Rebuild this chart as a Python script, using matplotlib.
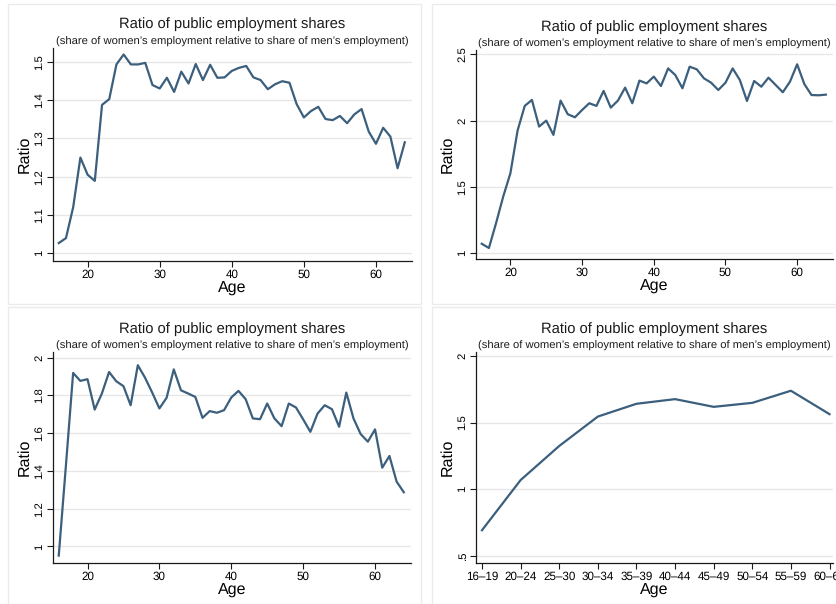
import matplotlib
matplotlib.use("Agg")
import matplotlib.pyplot as plt
from matplotlib.patches import Rectangle
import numpy as np

plt.rcParams['font.family'] = ['Liberation Sans', 'DejaVu Sans']
plt.rcParams['text.hinting'] = 'no_hinting'

# data
ages = list(range(16, 65))

ratio_a = [1.026, 1.039, 1.12, 1.25, 1.205, 1.189, 1.388, 1.403, 1.494, 1.52,
           1.494, 1.494, 1.498, 1.44, 1.431, 1.459, 1.422, 1.475, 1.444, 1.495,
           1.453, 1.493, 1.459, 1.46, 1.477, 1.485, 1.49, 1.46, 1.453, 1.429,
           1.442, 1.45, 1.446, 1.39, 1.355, 1.372, 1.383, 1.351, 1.348, 1.359,
           1.34, 1.363, 1.377, 1.318, 1.286, 1.328, 1.305, 1.222, 1.29]

ratio_b = [1.07, 1.038, 1.226, 1.427, 1.603, 1.925, 2.111, 2.156, 1.955, 2.0,
           1.892, 2.151, 2.048, 2.025, 2.08, 2.131, 2.111, 2.224, 2.098, 2.151,
           2.249, 2.131, 2.302, 2.281, 2.332, 2.261, 2.394, 2.344, 2.244, 2.407,
           2.387, 2.319, 2.286, 2.231, 2.286, 2.394, 2.307, 2.148, 2.299, 2.256,
           2.324, 2.269, 2.214, 2.294, 2.425, 2.276, 2.193, 2.191, 2.196]

ratio_c = [0.951, 1.43, 1.919, 1.877, 1.886, 1.725, 1.81, 1.924, 1.875, 1.849,
           1.748, 1.96, 1.894, 1.815, 1.731, 1.787, 1.938, 1.827, 1.81, 1.792,
           1.681, 1.717, 1.708, 1.722, 1.789, 1.824, 1.78, 1.678, 1.674, 1.757,
           1.678, 1.637, 1.757, 1.736, 1.673, 1.607, 1.704, 1.748, 1.727, 1.634,
           1.815, 1.678, 1.595, 1.555, 1.62, 1.417, 1.479, 1.343, 1.287]

age_groups = ['16\u201319', '20\u201324', '25\u201330', '30\u201334', '35\u201339',
              '40\u201344', '45\u201349', '50\u201354', '55\u201359', '60\u201364']
ratio_d = [0.691, 1.068, 1.324, 1.545, 1.641, 1.676, 1.618, 1.648, 1.739, 1.563]

ticks_a = [1, 1.1, 1.2, 1.3, 1.4, 1.5]
ticks_b = [1, 1.5, 2, 2.5]
ticks_c = [1, 1.2, 1.4, 1.6, 1.8, 2]
ticks_d = [0.5, 1, 1.5, 2]

title = "Ratio of public employment shares"
subtitle = "(share of women\u2019s employment relative to share of men\u2019s employment)"
line_col = '#3b5f7c'

W, H = 836, 604
fig = plt.figure(figsize=(W / 100, H / 100), dpi=100)

def px_axes(l, r, t, b):
    return fig.add_axes([l / W, 1 - b / H, (r - l) / W, (b - t) / H])

# panel frames (left, top, right, bottom) in pixels
frames = [(8, 4, 421, 304), (432, 4, 845, 304), (8, 307, 421, 615), (432, 307, 845, 615)]
for (l, t, r, b) in frames:
    fig.patches.append(Rectangle((l / W, 1 - b / H), (r - l) / W, (b - t) / H,
                                 transform=fig.transFigure, fill=False,
                                 edgecolor='#ebebeb', linewidth=1.0))

boxes = [(53, 412, 48, 261), (476, 833, 50, 259), (53, 411, 352, 563), (476, 833, 352, 563)]

def style(ax, ticks, labels):
    for s in ['top', 'right']:
        ax.spines[s].set_visible(False)
    for s in ['left', 'bottom']:
        ax.spines[s].set_color('#1a1a1a')
        ax.spines[s].set_linewidth(0.9)
    ax.set_yticks(ticks)
    ax.set_yticklabels(labels, rotation=90, va='center', fontsize=8.2)
    ax.tick_params(axis='x', labelsize=8.4, length=4, width=0.8, color='#1a1a1a', pad=2)
    ax.tick_params(axis='y', length=4, width=0.8, color='#1a1a1a', pad=2)
    ax.grid(axis='y', color='#e6e6e6', linewidth=0.9)
    ax.set_axisbelow(True)
    ax.set_xlabel('Age', fontsize=11.5, labelpad=0)
    ax.set_ylabel('Ratio', fontsize=11.5, labelpad=1.5)
    ax.text(0.5, 1.005, subtitle, transform=ax.transAxes, ha='center', va='bottom',
            fontsize=8.1, color='#1a1a1a')
    ax.text(0.5, 1.078, title, transform=ax.transAxes, ha='center', va='bottom',
            fontsize=10.6, color='#1a1a1a')

def fmt(v):
    s = ('%g' % v)
    return s[1:] if s.startswith('0.') else s

series = [ratio_a, ratio_b, ratio_c]
ticksets = [ticks_a, ticks_b, ticks_c]
ylims = [(0.979, 1.537), (0.955, 2.533), (0.912, 2.03)]
for i in range(3):
    ax = px_axes(*boxes[i])
    ax.plot(ages, series[i], color=line_col, linewidth=1.6)
    ax.set_xlim(15.2, 65.0)
    ax.set_ylim(*ylims[i])
    ax.set_xticks([20, 30, 40, 50, 60])
    style(ax, ticksets[i], [fmt(t) for t in ticksets[i]])

ax = px_axes(*boxes[3])
xpos = np.arange(len(age_groups))
ax.plot(xpos, ratio_d, color=line_col, linewidth=1.6)
ax.set_xlim(-0.155, 9.09)
ax.set_ylim(0.445, 2.03)
ax.set_xticks(xpos)
ax.set_xticklabels(age_groups)
style(ax, ticks_d, [fmt(t) for t in ticks_d])

fig.savefig('out.png', dpi=100, facecolor='white')
